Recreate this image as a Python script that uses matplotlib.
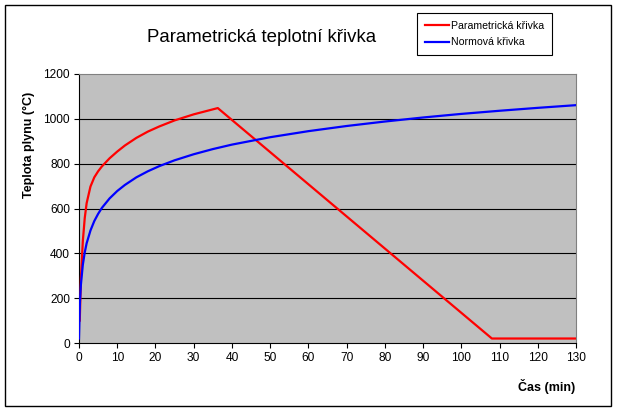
import matplotlib as mpl

mpl.use('Agg')
import matplotlib.pyplot as plt
from matplotlib.patches import Rectangle

plt.rcParams['font.family'] = ['Liberation Sans', 'DejaVu Sans']

# Parametricka krivka (cas v min, teplota v °C)
par_t = [0.2, 0.5, 1, 1.5, 2, 3, 4, 5, 6, 8, 10, 12, 15, 18, 21, 25, 30, 36.3, 108, 130]
par_T = [100, 289, 454, 557, 624, 698, 739, 766, 788, 824, 854, 881, 915, 943, 966, 993, 1020, 1048, 20, 20]

# Normova krivka
iso_t = [0, 0.25, 0.5, 1, 1.5, 2, 3, 4, 5, 6, 8, 10, 12, 15, 18, 21, 25, 30, 35, 40,
         50, 60, 70, 80, 90, 100, 110, 120, 130]
iso_T = [20, 185, 261, 349, 404, 445, 502, 544, 576, 603, 645, 678, 705, 739, 766, 789, 815,
         842, 865, 885, 918, 945, 968, 988, 1006, 1022, 1036, 1049, 1061]

x_ticks = list(range(0, 131, 10))
y_ticks = list(range(0, 1201, 200))

fig = plt.figure(figsize=(6.17, 4.13), dpi=100)
fig.patches.append(Rectangle((5 / 617, 7 / 413), 606 / 617, 401 / 413, transform=fig.transFigure,
                             fill=False, edgecolor='black', linewidth=1.0))

ax = fig.add_axes([79 / 617, 70 / 413, 497 / 617, 269 / 413])
ax.set_facecolor('#C0C0C0')

for y in y_ticks[1:-1]:
    ax.axhline(y, color='black', linewidth=0.8, zorder=1)

ax.plot(par_t, par_T, color='#FF0000', linewidth=1.6, label='Parametrická křivka', zorder=3)
ax.plot(iso_t, iso_T, color='#0000FF', linewidth=1.6, label='Normová křivka', zorder=4)

ax.set_xlim(0, 130)
ax.set_ylim(0, 1200)
ax.set_xticks(x_ticks)
ax.set_yticks(y_ticks)
ax.tick_params(direction='out', length=3.5, width=0.8, labelsize=8.6, pad=3, color='black')

for s in ['left', 'bottom']:
    ax.spines[s].set_color('black')
    ax.spines[s].set_linewidth(0.8)
for s in ['top', 'right']:
    ax.spines[s].set_color('#808080')
    ax.spines[s].set_linewidth(0.8)

fig.text(262 / 617, 1 - 38 / 413, 'Parametrická teplotní křivka', fontsize=13.4,
         ha='center', va='center')
fig.text(29 / 617, 1 - 145 / 413, 'Teplota plynu (°C)', fontsize=9, fontweight='bold',
         rotation=90, ha='center', va='center')
fig.text(575 / 617, 1 - 386 / 413, 'Čas (min)', fontsize=9, fontweight='bold',
         ha='right', va='center')

leg = ax.legend(loc='upper left', bbox_to_anchor=(417 / 617, 1 - 13 / 413), bbox_transform=fig.transFigure,
                fontsize=7.6, frameon=True, fancybox=False, edgecolor='black', framealpha=1,
                borderpad=0.75, handlelength=2.3, handletextpad=0.2, labelspacing=0.6, borderaxespad=0)
leg.get_frame().set_linewidth(0.8)

plt.savefig('out.png', dpi=100)
